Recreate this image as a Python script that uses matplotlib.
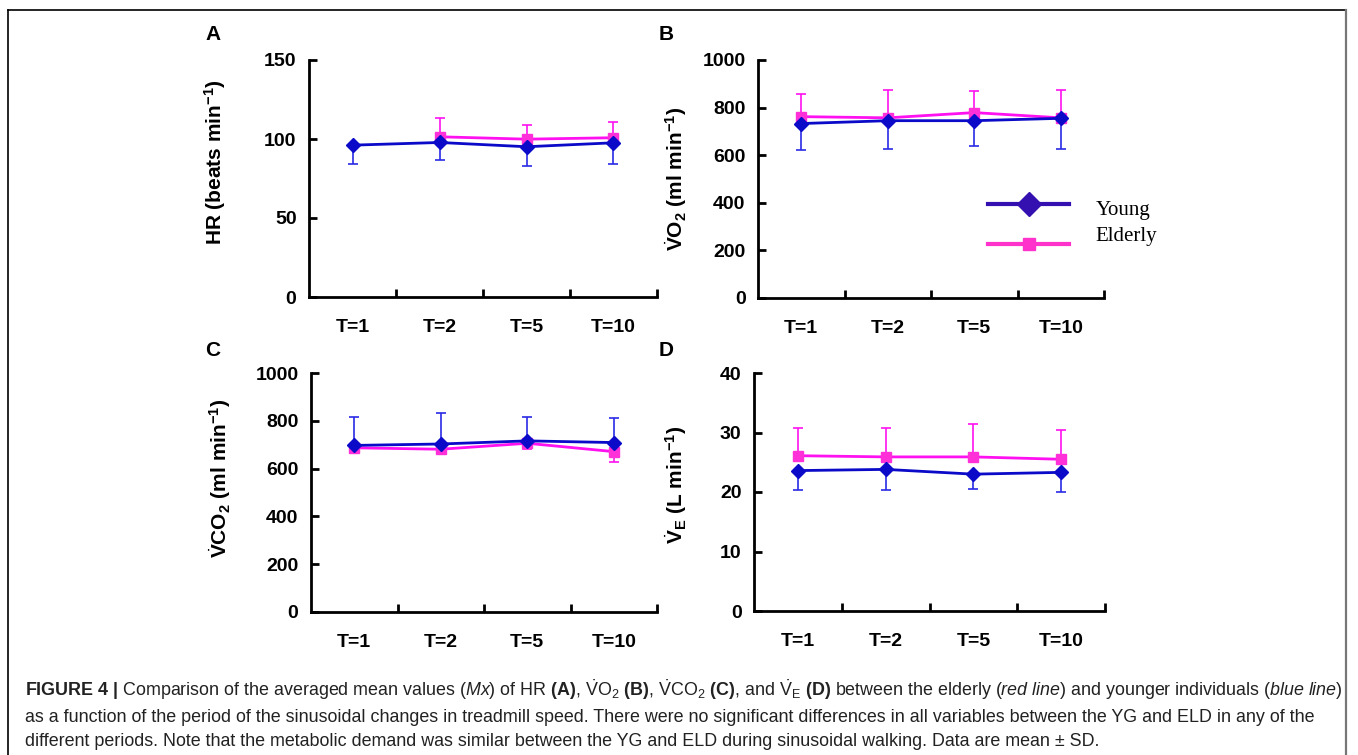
import numpy as np
import matplotlib
matplotlib.use('Agg')
import matplotlib.pyplot as plt
from matplotlib.lines import Line2D

plt.rcParams['font.family'] = ['Liberation Sans', 'DejaVu Sans']
plt.rcParams['mathtext.fontset'] = 'custom'
plt.rcParams['mathtext.rm'] = 'Liberation Sans'
plt.rcParams['mathtext.bf'] = 'Liberation Sans:bold'
plt.rcParams['mathtext.it'] = 'Liberation Sans:italic'

# data (mean, SD)
periods = ['T=1', 'T=2', 'T=5', 'T=10']

hr_young = [96.1, 97.8, 95.1, 97.6]
hr_young_sd = [11.8, 11.0, 12.3, 13.3]
hr_elderly = [np.nan, 101.4, 99.9, 100.8]
hr_elderly_sd = [np.nan, 11.6, 8.9, 9.7]

vo2_young = [733, 745, 745, 755]
vo2_young_sd = [111, 118, 106, 127]
vo2_elderly = [762, 757, 779, 757]
vo2_elderly_sd = [95, 117, 90, 117]

vco2_young = [697, 703, 716, 709]
vco2_young_sd = [118, 129, 99, 101]
vco2_elderly = [687, 681, 706, 671]
vco2_elderly_sd = [10, 13, 25, 42]

ve_young = [23.6, 23.8, 23.0, 23.3]
ve_young_sd = [3.3, 3.4, 2.5, 3.3]
ve_elderly = [26.1, 25.9, 25.9, 25.5]
ve_elderly_sd = [4.7, 4.9, 5.5, 5.0]

young_col = '#0a0ac8'
young_err = '#2a2ae6'
eld_col = '#ff10f0'
eld_mk = '#ff30d8'

W, H = 1358, 755
fig = plt.figure(figsize=(W / 100, H / 100), dpi=100)


def px_axes(l, r, t, b):
    return fig.add_axes([l / W, 1 - b / H, (r - l) / W, (b - t) / H])


def side_err(sd, up):
    sd = np.asarray(sd, dtype=float)
    z = np.zeros_like(sd)
    return [z, sd] if up else [sd, z]


def panel(ax, young, ysd, yup, eld, esd, eup, ymax, yticks):
    x = np.arange(len(periods))
    ax.errorbar(x, eld, yerr=side_err(esd, eup), fmt='none', ecolor=eld_col,
                elinewidth=1.2, capsize=3.5, capthick=1.2, zorder=2)
    ax.errorbar(x, young, yerr=side_err(ysd, yup), fmt='none', ecolor=young_err,
                elinewidth=1.2, capsize=3.5, capthick=1.2, zorder=2)
    ax.plot(x, eld, color=eld_col, lw=2, marker='s', ms=6.5,
            mfc=eld_mk, mec=eld_mk, zorder=3)
    ax.plot(x, young, color=young_col, lw=2, marker='D', ms=7.5,
            mfc=young_col, mec=young_col, zorder=4)
    ax.set_xlim(-0.5, len(periods) - 0.5)
    ax.set_ylim(0, ymax)
    ax.set_yticks(yticks, [str(v) for v in yticks], fontweight='bold', fontsize=14)
    # ticks sit between the periods, labels under the periods
    ax.set_xticks(x + 0.5)
    ax.set_xticklabels([])
    ax.set_xticks(x, periods, minor=True, fontweight='bold', fontsize=14)
    ax.tick_params(axis='x', which='major', direction='in', length=6, width=2)
    ax.tick_params(axis='x', which='minor', length=0, pad=16)
    ax.tick_params(axis='y', direction='in', length=6, width=2, pad=9)
    for s in ['top', 'right']:
        ax.spines[s].set_visible(False)
    for s in ['left', 'bottom']:
        ax.spines[s].set_linewidth(2)
    ax.patch.set_alpha(0)


axA = px_axes(309, 657, 60, 297)
panel(axA, hr_young, hr_young_sd, False, hr_elderly, hr_elderly_sd, True,
      150, [0, 50, 100, 150])
axB = px_axes(758, 1104, 60, 298)
panel(axB, vo2_young, vo2_young_sd, False, vo2_elderly, vo2_elderly_sd, True,
      1000, [0, 200, 400, 600, 800, 1000])
axC = px_axes(311, 657, 373, 612)
panel(axC, vco2_young, vco2_young_sd, True, vco2_elderly, vco2_elderly_sd, False,
      1000, [0, 200, 400, 600, 800, 1000])
axD = px_axes(754, 1105, 373, 611)
panel(axD, ve_young, ve_young_sd, False, ve_elderly, ve_elderly_sd, True,
      40, [0, 10, 20, 30, 40])

# legend in panel B: sample lines and names stacked differently, so two legends
h_young = Line2D([], [], color='#3510b0', lw=3, marker='D', ms=12,
                 mfc='#3510b0', mec='#3510b0')
h_eld = Line2D([], [], color='#ff33cc', lw=3, marker='s', ms=9,
               mfc='#ff33cc', mec='#ff33cc')
leg1 = axB.legend([h_young, h_eld], ['', ''], loc='center left',
                  bbox_to_anchor=(0.665, 0.302), frameon=False, fontsize=15,
                  handlelength=3.9, handletextpad=0, labelspacing=1.0,
                  borderpad=0, borderaxespad=0)
axB.add_artist(leg1)
blank = Line2D([], [], linestyle='none')
axB.legend([blank, blank], ['Young', 'Elderly'], loc='center left',
           bbox_to_anchor=(0.975, 0.313), frameon=False, handlelength=0,
           handletextpad=0, labelspacing=0.3, borderpad=0, borderaxespad=0,
           prop={'family': 'Liberation Serif', 'size': 15})

# y labels
lab_kw = dict(rotation=90, ha='center', va='center', fontsize=15, fontweight='bold')
fig.text(215 / W, 1 - 162 / H, r'HR (beats min$^{\mathbf{-1}}$)', **lab_kw)
fig.text(676 / W, 1 - 179 / H,
         r'$\dot{\mathbf{V}}\mathbf{O}_\mathbf{2}$ (ml min$^{\mathbf{-1}}$)', **lab_kw)
fig.text(220 / W, 1 - 478 / H,
         r'$\dot{\mathbf{V}}\mathbf{CO}_\mathbf{2}$ (ml min$^{\mathbf{-1}}$)', **lab_kw)
fig.text(676 / W, 1 - 485 / H,
         r'$\dot{\mathbf{V}}_\mathbf{E}$ (L min$^{\mathbf{-1}}$)', **lab_kw)

# panel letters
for letter, lx, ly in [('A', 205, 35), ('B', 659, 35), ('C', 205, 351), ('D', 659, 351)]:
    fig.text(lx / W, 1 - ly / H, letter, fontsize=15, fontweight='bold',
             ha='left', va='center')

# caption
cap = [
    r'$\mathbf{FIGURE\ 4\ |}$ Comparison of the averaged mean values ($\mathit{Mx}$) of HR '
    r'$\mathbf{(A)}$, $\dot{\mathrm{V}}$O$_2$ $\mathbf{(B)}$, $\dot{\mathrm{V}}$CO$_2$ '
    r'$\mathbf{(C)}$, and $\dot{\mathrm{V}}_\mathrm{E}$ $\mathbf{(D)}$ between the elderly '
    r'($\mathit{red\ line}$) and younger individuals ($\mathit{blue\ line}$)',
    'as a function of the period of the sinusoidal changes in treadmill speed. There were no '
    'significant differences in all variables between the YG and ELD in any of the',
    'different periods. Note that the metabolic demand was similar between the YG and ELD '
    'during sinusoidal walking. Data are mean \u00b1 SD.',
]
for line, cy in zip(cap, [690, 717, 742]):
    fig.text(25 / W, 1 - cy / H, line, fontsize=12.85, ha='left', va='center',
             color='#222222')

# outer frame
fig.add_artist(Line2D([8 / W, 1346 / W], [1 - 10 / H, 1 - 10 / H], color='black', lw=1.2))
fig.add_artist(Line2D([8 / W, 8 / W], [0, 1 - 10 / H], color='black', lw=1.2))
fig.add_artist(Line2D([1346 / W, 1346 / W], [0, 1 - 10 / H], color='#777777', lw=1.6))

fig.savefig('out.png', dpi=100)
